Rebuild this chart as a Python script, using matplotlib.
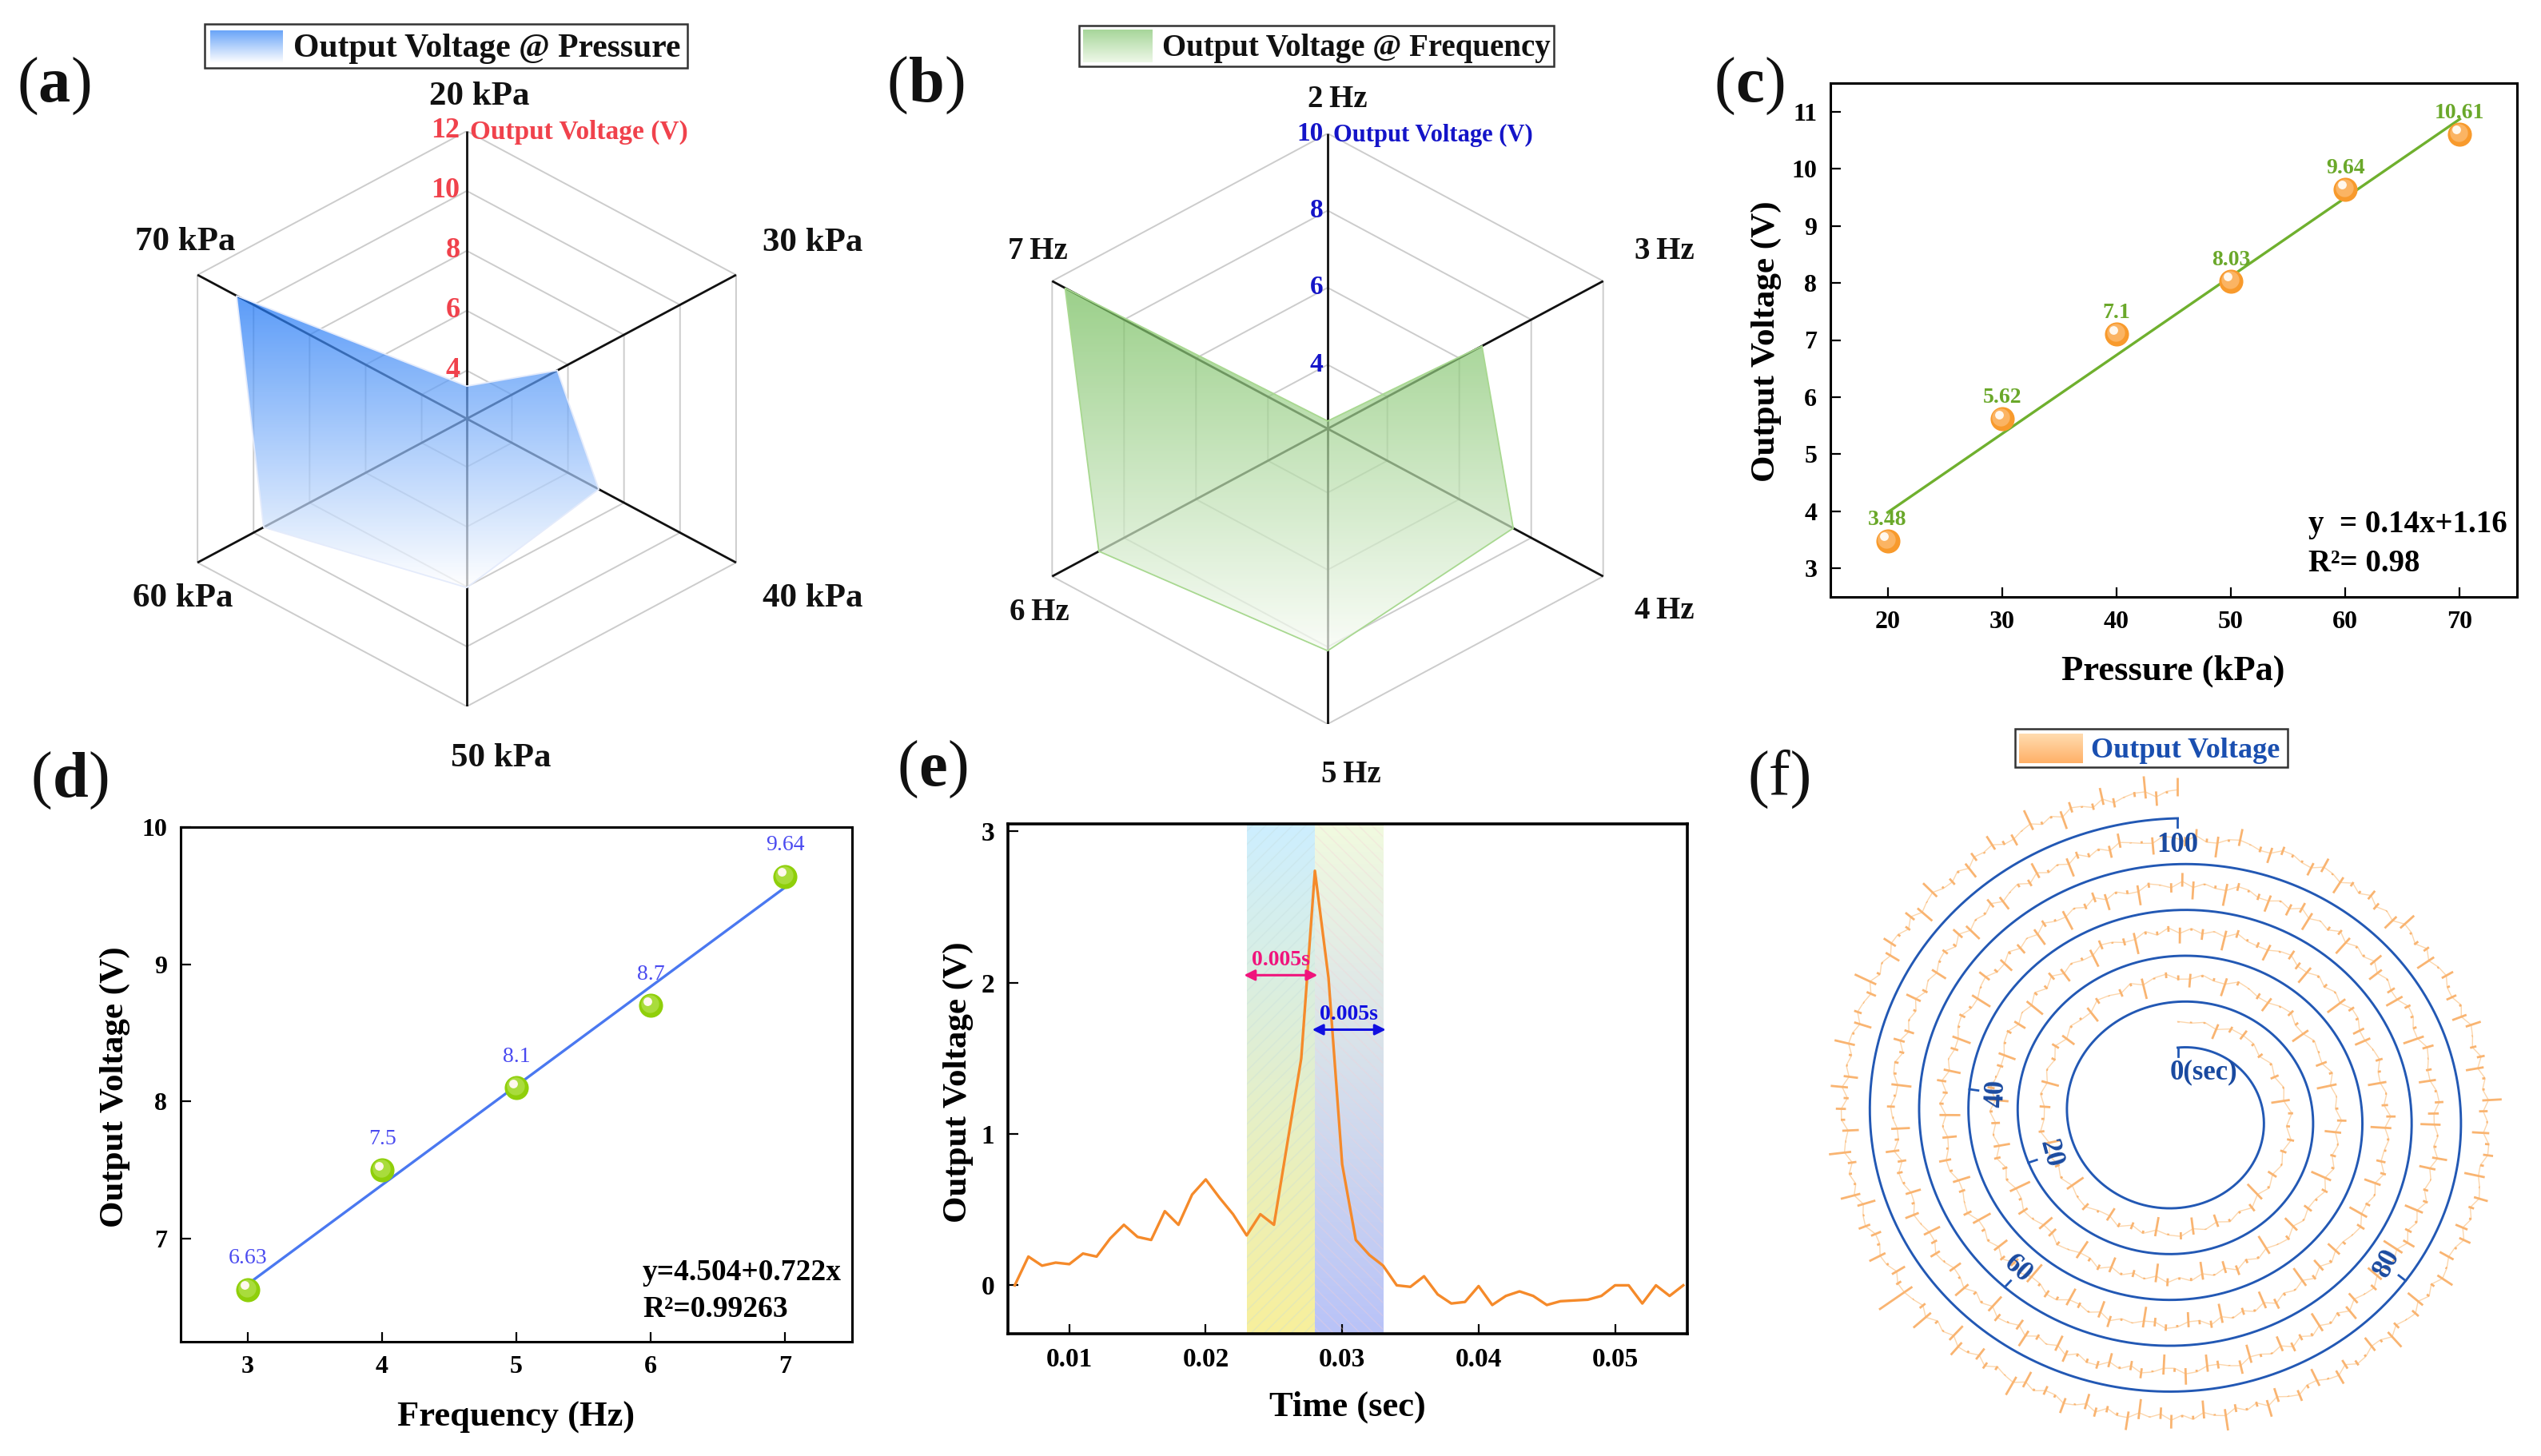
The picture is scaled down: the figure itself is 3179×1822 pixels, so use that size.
import numpy as np
import matplotlib
matplotlib.use("Agg")
import matplotlib.pyplot as plt
from matplotlib.patches import Polygon, Rectangle
from matplotlib.collections import LineCollection
from matplotlib.transforms import offset_copy

plt.rcParams['font.family'] = ['Liberation Serif', 'DejaVu Serif']
plt.rcParams['font.weight'] = 'bold'
plt.rcParams['axes.labelweight'] = 'bold'
plt.rcParams['hatch.linewidth'] = 1.0

W, H = 3179, 1822

# (a) / (c)
pressure = [20, 30, 40, 50, 60, 70]
pressure_v = [3.48, 5.62, 7.1, 8.03, 9.64, 10.61]
pressure_labels = ['20 kPa', '30 kPa', '40 kPa', '50 kPa', '60 kPa', '70 kPa']
pressure_rings = [4, 6, 8, 10, 12]
pressure_fit_x = [20, 70]
pressure_fit_y = [3.98, 10.87]

# (b) / (d)
freq_labels = ['2\u2009Hz', '3\u2009Hz', '4\u2009Hz', '5\u2009Hz', '6\u2009Hz', '7\u2009Hz']
freq_radar_v = [2.54, 6.63, 7.5, 8.1, 8.7, 9.64]
freq_rings = [4, 6, 8, 10]
freq = [3, 4, 5, 6, 7]
freq_v = [6.63, 7.5, 8.1, 8.7, 9.64]
freq_fit_x = [3, 7]
freq_fit_y = [6.67, 9.56]

# (e)
pulse_t = [0.006, 0.007, 0.008, 0.009, 0.010, 0.011, 0.012, 0.013, 0.014, 0.015,
           0.016, 0.017, 0.018, 0.019, 0.020, 0.021, 0.022, 0.023, 0.024, 0.025,
           0.026, 0.027, 0.028, 0.029, 0.030, 0.031, 0.032, 0.033, 0.034, 0.035,
           0.036, 0.037, 0.038, 0.039, 0.040, 0.041, 0.042, 0.043, 0.044, 0.045,
           0.046, 0.047, 0.048, 0.049, 0.050, 0.051, 0.052, 0.053, 0.054, 0.055]
pulse_v = [0.0, 0.19, 0.13, 0.15, 0.14, 0.21, 0.19, 0.31, 0.40, 0.32,
           0.30, 0.49, 0.40, 0.60, 0.70, 0.58, 0.47, 0.33, 0.47, 0.40,
           0.95, 1.50, 2.74, 2.03, 0.80, 0.30, 0.20, 0.13, 0.0, -0.01,
           0.06, -0.06, -0.12, -0.11, -0.005, -0.13, -0.07, -0.04, -0.07, -0.13,
           -0.105, -0.10, -0.095, -0.07, 0.0, 0.0, -0.12, 0.0, -0.07, 0.0]

# (f) voltage trace read along the spiral, 0-100 s
spiral_ticks = [0, 20, 40, 60, 80, 100]
spiral_v = [
    0.1, -0.2, 0.2, -2.2, 0.9, 1.5, 0.4, -0.8, 0.3, -1.2, 0.2, -2.6, 0.7, -0.5, 1.0, -0.9, 0.2, -1.4, 0.3, -2.9,
    1.2, -0.3, 0.4, -1.8, 0.1, -2.4, 1.0, 0.2, -2.7, 0.4, -1.0, 0.6, -2.0, -0.3, 1.2, 0.2, -2.8, 0.3, -0.7, 0.2,
    -2.3, 0.8, -0.4, -1.5, 0.3, -2.5, 0.2, -0.6, 1.1, -2.1, 0.3, -0.3, -2.4, 0.9, 0.1, -1.1, 0.4, -2.9, 0.2, 0.8,
    -0.7, -1.9, 0.3, -0.4, -2.6, 0.6, 0.1, -0.9, -2.2, 0.2, 1.0, -0.5, -2.7, 0.3, -0.2, -1.6, 0.5, -2.8, 0.1, -0.4,
    1.3, -2.3, 0.2, -0.8, 0.4, -3.0, 0.9, -0.3, -1.3, 0.2, -2.4, 0.7, 0.1, -2.9, 0.3, -0.6, 1.4, -1.7, 0.2, -2.5,
    0.4, -0.3, 1.1, -2.6, 0.2, -1.0, 0.3, -2.2, 0.8, -0.5, -2.8, 0.1, 0.6, -1.4, -2.4, 0.2, 1.5, -0.4, -3.1, 0.3,
    -0.7, 0.9, -2.3, 0.2, -1.2, 0.4, -2.7, 1.0, -0.2, -0.9, -2.5, 0.3, 0.7, -1.8, 0.1, -2.9, 0.5, -0.6, 1.2, -2.1,
    0.2, -0.4, -2.6, 1.3, 0.2, -1.0, -3.0, 0.4, -0.5, 0.8, -2.2, 0.3, -1.5, 0.1, -2.8, 1.1, -0.3, -0.8, -2.4, 0.2,
    1.4, -1.1, -2.7, 0.3, -0.6, 0.2, -3.1, 0.9, 0.4, -1.7, -2.3, 0.1, 1.0, -0.4, -2.6, 0.2, -0.9, 1.3, -2.9, 0.3,
    -0.3, -1.3, 0.8, -2.4, 0.2, -0.7, -2.8, 1.2, 0.1, -0.5, -2.2, 0.4, -1.9, 0.7, -3.0, 0.2, -0.4, 1.5, -2.5, 0.3,
    -1.0, 0.2, -2.7, 1.0, -0.6, -2.1, 0.3, 0.9, -1.2, -2.9, 0.1, -0.3, 1.6, -2.4, 0.2, -0.8, -2.6, 0.5, 1.1, -0.4,
    -3.2, 0.2, -1.4, 0.8, -2.3, 0.3, -0.5, -2.8, 1.2, 0.1, -0.9, -2.5, 0.4, 1.7, -0.3, -2.0, 0.2, -2.9, 0.6, -0.7,
    1.3, -2.4, 0.1, -1.1, -2.7, 0.3, 0.9, -0.4, -3.0, 0.2, 1.8, -0.6, -2.2, 0.4, -1.6, 0.1, -2.6, 1.0, -0.3, -2.9,
    0.2, -0.8, 1.4, -2.3, 0.3, -0.5, -2.8, 0.7, 0.1, -1.3, 1.9, -2.5, 0.2, -0.4, -3.1, 1.1, 0.3, -0.9, -2.4, 0.2,
    -1.7, 1.5, -2.7, 0.1, -0.6, 0.8, -2.9, 0.3, -0.3, 2.0, -2.2, 0.2, -1.2, -2.6, 0.9, 0.4, -0.5, -3.0, 1.6, 0.1,
    -0.8, -2.4, 0.3, 1.2, -1.5, -2.8, 0.2, -0.4, 2.1, -2.3, 0.1, -0.7, 0.7, -2.7, 0.3, -1.0, 1.8, -3.1, 0.2, -0.3,
    -2.5, 1.0, 0.1, -1.8, 2.2, -0.6, 0.3, -2.9, 0.4, -0.9, 1.3, -2.2, 0.2, -0.4, -2.6, 1.9, 0.1, -1.1, -2.4, 0.3,
    2.3, -0.5, -2.8, 0.2, 1.4, -1.3, 0.3, -2.0, 1.1, 0.6, -0.4, 1.7, -2.3, 0.1, -0.8, 2.5, -1.6, 0.2, 1.2, -2.7,
    0.3, -0.5, 2.4, -0.3, -1.9, 0.2, 1.5, -0.9, -2.5, 0.1, 2.0, -0.4, -2.2, 0.3, 0.8, -1.2, 1.9, -0.6, -2.6, 0.2,
    1.1, -0.3, -2.8, 0.4, 0.6, -0.7, 1.6, -1.4, 0.2, -0.4, 2.2, -0.8, 0.1, -2.3, 0.3, 0.9, -0.5, 1.7, -2.6, 0.2,
    -0.3, 1.4, -2.1, 0.1, 0.5, -1.0, 2.3, -0.4, 0.2, -2.7, 1.0, -0.6, 0.3, -1.7, 2.0, 0.1, -0.3, -2.4, 0.8, 0.2,
    -1.3, 1.6, -0.5, -2.9, 0.3, 2.4, 0.1, -0.8, -2.2, 1.2, 0.4, -0.3, -1.9, 2.1, 0.2, -2.6, 0.7, -0.4, 1.5, -1.1,
    0.1, -2.3, 2.6, 0.3, -0.7, 0.9, -2.8, 0.2, 1.8, -0.4, -1.5, 0.3, -2.1, 2.2, 0.1, -0.9, 1.1, -2.5, 0.4, -0.3,
    2.7, -1.2, 0.2, -2.4, 0.6, 1.4, -0.5, -2.9, 0.1, 2.0, -0.8, 0.3, -1.8, 1.7, -0.3, -2.2, 0.2, 2.5, -0.6, 0.4,
    -2.7, 1.2, 0.1, -1.0, 2.8, -0.4, -2.3, 0.3, 0.8, -1.4, 2.1, 0.2, -2.6, -0.5, 1.6, 0.1, -2.0, 2.4, -0.7, 0.3,
    -1.1, 3.0, 0.2, -2.5, 0.5, -0.3, 1.9, -1.6, 0.1, -2.8, 2.6, 0.4, -0.9, 1.3, -2.2, 0.2, 2.2, -0.4, -1.3, 0.3,
    -2.4, 2.9, 0.1, -0.6, 1.0, -1.9, 0.3, 2.3, -2.7, 0.2, -0.5, 3.2, -1.0, 0.1, 5.6, 0.8, -2.1, 0.3, 2.5, -0.4,
    -1.5, 1.7, 0.2, -2.6, 2.8, -0.3, 0.4, -1.2, 3.1, 0.1, -2.3, 0.6, 1.4, -0.7, 2.4, -2.0, 0.2, -0.4, 2.9, 0.3,
    -2.5, 1.1, 0.1, -1.4, 3.3, -0.5, 0.2, -2.2, 2.0, 0.4, -0.8, 1.6, -2.7, 0.1, 2.7, -0.3, -1.1, 0.3, -2.4, 1.3,
    0.2, 2.2, -0.6, -1.7, 0.1, 3.0, -0.4, 0.3, -2.6, 1.5, 0.2, -0.9, 2.4, -1.3, 0.1, 0.7, 3.1, -2.0, 0.3, 2.6,
]

fig = plt.figure(figsize=(W / 100, H / 100), dpi=100, facecolor='white')


def box(left, top, right, bottom):
    return [left / W, 1 - bottom / H, (right - left) / W, (bottom - top) / H]


def ftext(x, y, s, **kw):
    kw.setdefault('ha', 'center')
    kw.setdefault('va', 'center')
    return fig.text(x / W, 1 - (y + 3) / H, s, **kw)


def legend_box(left, top, right, bottom, sleft, stop, sright, sbottom, c_top, c_bottom, tx, label, size, color):
    fig.add_artist(Rectangle((left / W, 1 - bottom / H), (right - left) / W, (bottom - top) / H,
                             transform=fig.transFigure, fc='white', ec='#333333', lw=1.8))
    sw = fig.add_axes(box(sleft, stop, sright, sbottom))
    sw.set_zorder(5)
    c1 = np.array(matplotlib.colors.to_rgb(c_top))
    c2 = np.array(matplotlib.colors.to_rgb(c_bottom))
    g = np.linspace(0, 1, 64)[:, None, None]
    sw.imshow(c1 * (1 - g) + c2 * g, aspect='auto')
    sw.axis('off')
    ftext(tx, (top + bottom) / 2, label, ha='left', fontsize=size, color=color, zorder=6)


def radar(rect, values, rings, v0, vmax, c_top, c_bottom, alpha, edge, tick_color, tick_size, tick_dx):
    ax = fig.add_axes(rect)
    ax.set_xlim(-1, 1)
    ax.set_ylim(-1, 1)
    ax.axis('off')
    angles = np.deg2rad(np.arange(6) * 60)
    sx, cy = np.sin(angles), np.cos(angles)
    for v in rings:
        r = (v - v0) / (vmax - v0)
        ax.add_patch(Polygon(np.c_[r * sx, r * cy], closed=True, fill=False, ec='#cccccc', lw=1.4, zorder=1))
    for a, b in zip(sx, cy):
        ax.plot([0, a], [0, b], color='#111111', lw=2.0, zorder=2, solid_capstyle='butt')
    r = (np.array(values) - v0) / (vmax - v0)
    pts = np.c_[r * sx, r * cy]
    poly = Polygon(pts, closed=True, fc='none', ec=edge, lw=1.3, zorder=4)
    ax.add_patch(poly)
    ytop, ybot = pts[:, 1].max(), pts[:, 1].min()
    c1 = np.array(matplotlib.colors.to_rgb(c_top))
    c2 = np.array(matplotlib.colors.to_rgb(c_bottom))
    g = np.linspace(0, 1, 200)[:, None, None]
    grad = np.zeros((200, 2, 4))
    grad[..., :3] = c1 * (1 - g) + c2 * g
    grad[..., 3] = alpha
    im = ax.imshow(grad, extent=[-1, 1, ybot, ytop], aspect='auto', zorder=3)
    im.set_clip_path(poly)
    ax.set_xlim(-1, 1)
    ax.set_ylim(-1, 1)
    for v in rings:
        ax.text(tick_dx, (v - v0) / (vmax - v0), str(v), ha='right', va='center',
                color=tick_color, fontsize=tick_size, zorder=6)
    return ax


def style_axes(ax, xticks, yticks, size, lw=2.2):
    ax.set_xticks(xticks)
    ax.set_yticks(yticks)
    ax.tick_params(direction='in', length=9, width=1.6, labelsize=size, pad=12)
    for s in ax.spines.values():
        s.set_linewidth(lw)
    ax.patch.set_alpha(0)


def spheres(ax, x, y, base, mid, size=470):
    ax.scatter(x, y, s=size, color=base, zorder=5, lw=0)
    tr = offset_copy(ax.transData, fig=fig, x=-1.0, y=1.5, units='points')
    ax.scatter(x, y, s=size * 0.55, color=mid, zorder=6, lw=0, transform=tr)
    tr = offset_copy(ax.transData, fig=fig, x=-3.0, y=4.0, units='points')
    ax.scatter(x, y, s=size * 0.13, color='#fff8ee', zorder=7, lw=0, transform=tr)


# (a) pressure radar
radar(box(195, 164, 973, 884), pressure_v, pressure_rings, 2.39, 12,
      '#1b75f6', '#ffffff', 0.72, '#e4ebfb', '#f0424c', 26, -0.022)
legend_box(256, 30, 860, 85, 263, 38, 354, 79, '#6aa5f8', '#ffffff', 367,
           'Output Voltage @ Pressure', 30, '#111111')
ftext(588, 162, 'Output Voltage (V)', ha='left', fontsize=24, color='#f0424c')
for (x, y), s in zip([(600, 118), (1017, 301), (1017, 746), (627, 946), (229, 746), (232, 300)], pressure_labels):
    ftext(x, y, s, fontsize=31, color='#111111')

# (b) frequency radar
radar(box(1263, 167, 2059, 906), freq_radar_v, freq_rings, 2.34, 10,
      '#75be5d', '#f8fcf5', 0.72, '#a8d890', '#1414c8', 24, -0.014)
legend_box(1350, 32, 1944, 83, 1355, 37, 1442, 78, '#a7d69a', '#eef8e8', 1454,
           'Output Voltage @ Frequency', 28, '#111111')
ftext(1668, 166, 'Output Voltage (V)', ha='left', fontsize=22, color='#1414c8')
for (x, y), s in zip([(1673, 121), (2082, 311), (2082, 762), (1690, 967), (1300, 763), (1298, 311)], freq_labels):
    ftext(x, y, s, fontsize=28, color='#111111')

# (c)
ax = fig.add_axes(box(2290, 104, 3149, 747))
ax.plot(pressure_fit_x, pressure_fit_y, color='#6fb02e', lw=2.4, zorder=4)
spheres(ax, pressure, pressure_v, '#f89a2c', '#fbb463')
ax.set_xlim(15, 75)
ax.set_ylim(2.5, 11.5)
style_axes(ax, pressure, range(3, 12), 23)
for x, y in zip(pressure, pressure_v):
    ax.annotate(f'{y:g}', (x, y), xytext=(0, 19), textcoords='offset points', ha='center', va='center',
                fontsize=20, color='#6aa82a', zorder=8)
ftext(2210, 424, 'Output Voltage (V)', rotation=90, fontsize=31)
ftext(2719, 837, 'Pressure (kPa)', fontsize=32)
ftext(2888, 654, 'y  = 0.14x+1.16', ha='left', fontsize=28)
ftext(2888, 703, 'R²= 0.98', ha='left', fontsize=28)

# (d)
ax = fig.add_axes(box(226, 1035, 1066, 1679))
ax.plot(freq_fit_x, freq_fit_y, color='#4a78f0', lw=2.4, zorder=4)
spheres(ax, freq, freq_v, '#8fcf0a', '#a9dc3c')
ax.set_xlim(2.5, 7.5)
ax.set_ylim(6.25, 10)
style_axes(ax, freq, [7, 8, 9, 10], 23)
for x, y in zip(freq, freq_v):
    ax.annotate(f'{y:g}', (x, y), xytext=(0, 28), textcoords='offset points', ha='center', va='center',
                fontsize=20, color='#4a4af0', fontweight='normal', zorder=8)
ftext(144, 1357, 'Output Voltage (V)', rotation=90, fontsize=31)
ftext(646, 1771, 'Frequency (Hz)', fontsize=32)
ftext(804, 1589, 'y=4.504+0.722x', ha='left', fontsize=27)
ftext(804, 1636, 'R²=0.99263', ha='left', fontsize=27)

# (e)
ax = fig.add_axes(box(1261, 1031, 2111, 1669))
ylo, yhi = -0.32, 3.05
for x0, x1, c_top, c_bottom, hatch, hc in [
        (0.023, 0.028, '#cdeeff', '#f8f09c', '//', '#c4dcdc'),
        (0.028, 0.033, '#f1fadf', '#b9c3f8', '\\\\', '#f6d0d6')]:
    c1 = np.array(matplotlib.colors.to_rgb(c_top))
    c2 = np.array(matplotlib.colors.to_rgb(c_bottom))
    g = np.linspace(0, 1, 128)[:, None, None]
    ax.imshow(c1 * (1 - g) + c2 * g, extent=[x0, x1, ylo, yhi], aspect='auto', zorder=1)
    ax.add_patch(Rectangle((x0, ylo), x1 - x0, yhi - ylo, fill=False, hatch=hatch, ec=hc, lw=0,
                           alpha=0.35, zorder=2))
ax.plot(pulse_t, pulse_v, color='#f58a2a', lw=2.4, zorder=3)
ax.set_xlim(0.0055, 0.0553)
ax.set_ylim(ylo, yhi)
style_axes(ax, [0.01, 0.02, 0.03, 0.04, 0.05], [0, 1, 2, 3], 24, lw=2.6)
ax.annotate('', xy=(0.0228, 2.05), xytext=(0.0282, 2.05), zorder=6,
            arrowprops=dict(arrowstyle='<|-|>', color='#f0147c', lw=2.2, mutation_scale=20, shrinkA=0, shrinkB=0))
ax.annotate('', xy=(0.0278, 1.69), xytext=(0.0332, 1.69), zorder=6,
            arrowprops=dict(arrowstyle='<|-|>', color='#1010e0', lw=2.2, mutation_scale=20, shrinkA=0, shrinkB=0))
ax.text(0.0255, 2.15, '0.005s', color='#f0147c', fontsize=20, ha='center', va='center', zorder=7)
ax.text(0.0305, 1.79, '0.005s', color='#1010e0', fontsize=20, ha='center', va='center', zorder=7)
ftext(1199, 1351, 'Output Voltage (V)', rotation=90, fontsize=31)
ftext(1686, 1758, 'Time (sec)', fontsize=32)

# (f) spiral, time runs at constant arc length along it
ax = fig.add_axes([0, 0, 1, 1])
ax.set_xlim(0, W)
ax.set_ylim(H, 0)
ax.axis('off')
ax.set_zorder(-1)
cx, cy = 2724.5, 1397
n_grid = np.linspace(0, 5, 4000)


def spiral_xy(n, off=0.0):
    th = 2 * np.pi * n
    return cx + (92 + 61.7 * n + off) * np.sin(th), cy - (86 + 57.4 * n + off) * np.cos(th)


gx, gy = spiral_xy(n_grid)
arc = np.r_[0, np.cumsum(np.hypot(np.diff(gx), np.diff(gy)))]
arc = arc / arc[-1] * 100
samples = np.array(spiral_v)
sample_t = np.linspace(0, 100, len(samples))
sample_n = np.interp(sample_t, arc, n_grid)

scale = 7.5
gap = 32.0
base = np.clip(samples, -0.5, 0.5)
bx, by = spiral_xy(sample_n, gap + scale * base)
ax.plot(bx, by, color='#fcd6ac', lw=1.0, zorder=2)
x0, y0 = spiral_xy(sample_n, gap - 0.2 * scale * samples)
x1, y1 = spiral_xy(sample_n, gap + scale * samples)
ax.add_collection(LineCollection(np.stack([np.c_[x0, y0], np.c_[x1, y1]], axis=1),
                                 colors='#f9b471', linewidths=2.0, zorder=3))
ax.plot(gx, gy, color='#2258b4', lw=2.1, zorder=4)
for t in spiral_ticks:
    n = np.interp(t, arc, n_grid)
    p = spiral_xy(n)
    q = spiral_xy(n, -11)
    ax.plot([p[0], q[0]], [p[1], q[1]], color='#2258b4', lw=2.0, zorder=4)
tick_text = [('0(sec)', 2757, 1342, 0), ('20', 2565, 1444, -75), ('40', 2498, 1368, 88),
             ('60', 2524, 1588, -42), ('80', 2987, 1581, 62), ('100', 2724, 1057, 0)]
for s, x, y, rot in tick_text:
    ax.text(x, y, s, color='#1a4aa0', fontsize=25, ha='center', va='center', rotation=rot, zorder=5)
legend_box(2521, 912, 2862, 960, 2526, 918, 2606, 955, '#ffdcb0', '#ffb067', 2616,
           'Output Voltage', 26, '#1a4fb0')

# panel letters, thin brackets round a bold letter
letter_w = {'a': 40, 'b': 45, 'c': 36, 'd': 45, 'e': 36}
for (x, y), s in zip([(68, 105), (1159, 104), (2189, 105), (88, 974), (1167, 960)], 'abcde'):
    ftext(x, y, s, fontsize=58, color='#111111')
    ftext(x - letter_w[s] / 2, y, '(', ha='right', fontsize=58, color='#111111', fontweight='normal')
    ftext(x + letter_w[s] / 2, y, ')', ha='left', fontsize=58, color='#111111', fontweight='normal')
ftext(2227, 972, '(f)', fontsize=58, color='#111111', fontweight='normal')

fig.savefig('out.png', dpi=100)
